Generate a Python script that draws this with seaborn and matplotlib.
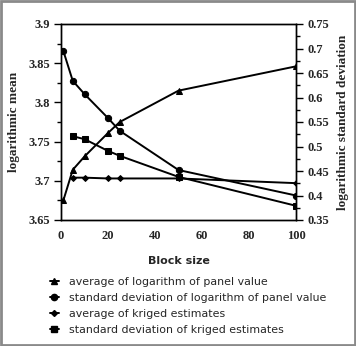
import matplotlib
matplotlib.use("Agg")
import matplotlib.pyplot as plt
import seaborn as sns
import pandas as pd
from matplotlib.lines import Line2D
from matplotlib.patches import Rectangle
from matplotlib.ticker import MultipleLocator
from matplotlib.font_manager import FontProperties

block_panel = [1, 5, 10, 20, 25, 50, 100]
avg_log_panel = [3.675, 3.714, 3.731, 3.761, 3.775, 3.815, 3.846]
sd_log_panel = [0.695, 0.634, 0.607, 0.558, 0.532, 0.452, 0.400]

block_kriged = [5, 10, 20, 25, 50, 100]
avg_kriged = [3.704, 3.704, 3.703, 3.703, 3.703, 3.697]
sd_kriged = [0.521, 0.515, 0.491, 0.481, 0.438, 0.379]

x_ticks = [0, 20, 40, 60, 80, 100]
left_ticks = ["3.65", "3.7", "3.75", "3.8", "3.85", "3.9"]
right_ticks = ["0.35", "0.4", "0.45", "0.5", "0.55", "0.6", "0.65", "0.7", "0.75"]

labels = ["average of logarithm of panel value",
          "standard deviation of logarithm of panel value",
          "average of kriged estimates",
          "standard deviation of kriged estimates"]

sns.set_style("white")
serif = ["Liberation Serif", "DejaVu Serif"]
plt.rcParams['font.family'] = ["DejaVu Sans"]
tick_fp = FontProperties(family=serif, weight="bold", size=9)
label_fp = FontProperties(family=serif, weight="bold", size=9.5)

fig = plt.figure(figsize=(3.56, 3.46), dpi=100)
ax = fig.add_axes([61/356, 1-220/346, 235/356, 196/346])
ax2 = ax.twinx()

df1 = pd.DataFrame({"x": block_panel, "y": avg_log_panel})
df2 = pd.DataFrame({"x": block_panel, "y": sd_log_panel})
df3 = pd.DataFrame({"x": block_kriged, "y": avg_kriged})
df4 = pd.DataFrame({"x": block_kriged, "y": sd_kriged})

kw = dict(color="black", linewidth=1.4, markeredgecolor="black", legend=False)
sns.lineplot(data=df1, x="x", y="y", ax=ax, marker="^", markersize=5, **kw)
sns.lineplot(data=df3, x="x", y="y", ax=ax, marker="D", markersize=3, **kw)
sns.lineplot(data=df2, x="x", y="y", ax=ax2, marker="o", markersize=4.5, **kw)
sns.lineplot(data=df4, x="x", y="y", ax=ax2, marker="s", markersize=4.5, **kw)

ax.set_xlim(0, 100)
ax.set_ylim(3.65, 3.9)
ax2.set_ylim(0.35, 0.75)
ax.set_xticks(x_ticks)
ax.set_xticklabels([str(v) for v in x_ticks], fontproperties=tick_fp)
ax.set_yticks([float(v) for v in left_ticks])
ax.set_yticklabels(left_ticks, fontproperties=tick_fp)
ax2.set_yticks([float(v) for v in right_ticks])
ax2.set_yticklabels(right_ticks, fontproperties=tick_fp)
ax.yaxis.set_minor_locator(MultipleLocator(0.025))
ax2.yaxis.set_minor_locator(MultipleLocator(0.025))

for a in (ax, ax2):
    for s in a.spines.values():
        s.set_color("black")
        s.set_linewidth(1.0)
    a.tick_params(axis="both", which="major", direction="out", length=5, width=1,
                  color="black", pad=3)
    a.tick_params(axis="y", which="minor", direction="out", length=3, width=1, color="black")
ax.tick_params(axis="x", length=4)

ax.set_xlabel("Block size", family=["DejaVu Sans"], fontsize=8, fontweight="bold", labelpad=10)
ax.set_ylabel("logarithmic mean", fontproperties=label_fp, labelpad=6)
ax2.set_ylabel("logarithmic standard deviation", fontproperties=label_fp, labelpad=6)

handles = [
    Line2D([], [], color="black", lw=1.4, marker="^", markersize=5),
    Line2D([], [], color="black", lw=1.4, marker="o", markersize=4.5),
    Line2D([], [], color="black", lw=1.4, marker="D", markersize=3),
    Line2D([], [], color="black", lw=1.4, marker="s", markersize=4.5),
]
fig.legend(handles, labels, loc="upper left", bbox_to_anchor=(50/356, 1-277/346),
           frameon=False, handlelength=0.8, handletextpad=0.95,
           labelspacing=0.55, borderaxespad=0, borderpad=0,
           prop={"family": "DejaVu Sans", "size": 7.9})

fig.patches.append(Rectangle((0.002, 0.002), 0.996, 0.996, transform=fig.transFigure,
                             fill=False, edgecolor="#8a8a8a", linewidth=2))

fig.savefig("out.png", dpi=100)
